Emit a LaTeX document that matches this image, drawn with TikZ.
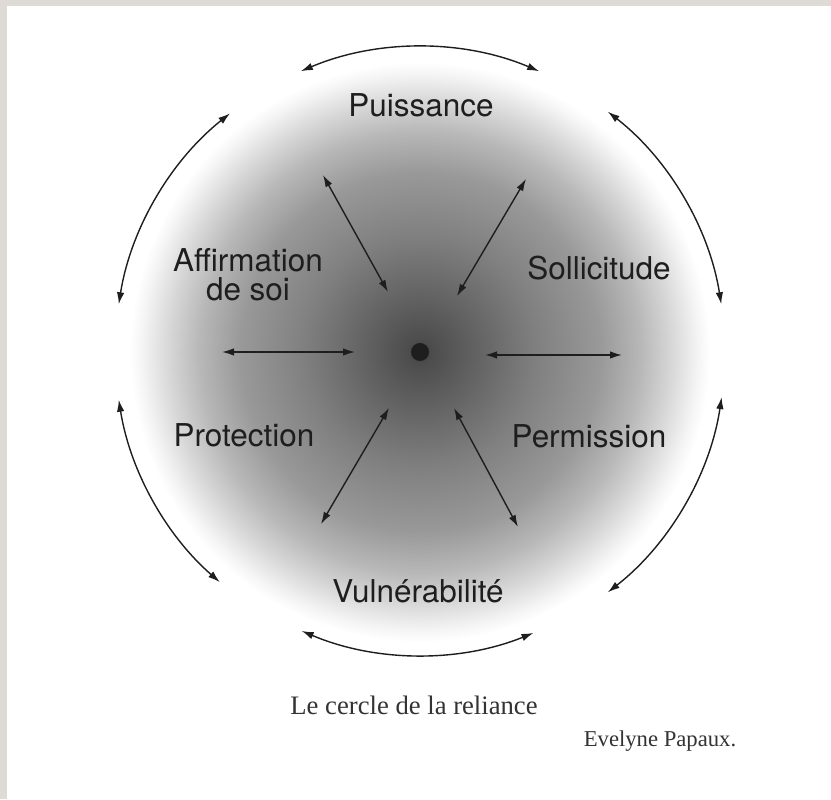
\documentclass[tikz,border=0pt]{standalone}
\usepackage{fontspec}
\setmainfont{Liberation Serif}
\newfontfamily\labfont{TeX Gyre Heros}
\usetikzlibrary{arrows.meta}
\definecolor{bandgray}{HTML}{DEDBD6}
\definecolor{ink}{HTML}{1E1E1E}
\pgfdeclareradialshading{glow}{\pgfpoint{0bp}{0bp}}{%
  color(0bp)=(black!76);
  color(1bp)=(black!70);
  color(5bp)=(black!61);
  color(10bp)=(black!50);
  color(15.5bp)=(black!40);
  color(19bp)=(black!28);
  color(21.6bp)=(black!16);
  color(24bp)=(black!4);
  color(25bp)=(white);
  color(50bp)=(white)}
\tikzset{
  lab/.style={font=\labfont\fontsize{23.6}{22}\selectfont, text=ink, inner sep=0pt, align=center},
  dblarrow/.style={draw=ink, line width=1.05pt, {Latex[length=9pt,width=5.6pt]}-{Latex[length=9pt,width=5.6pt]}},
  captext/.style={font=\fontsize{20}{24}\selectfont, text=black!80, inner sep=0pt}
}
\begin{document}
\begin{tikzpicture}[x=0.75pt,y=0.75pt]
\useasboundingbox (0,0) rectangle (831,799);
\fill[white] (0,0) rectangle (831,799);
\fill[bandgray] (0,793) rectangle (831,799);
\fill[bandgray] (0,0) rectangle (7,799);
% shaded disk
\shade[shading=glow] (420,447) circle (290);
% centre dot
\node[circle, fill=ink, minimum size=13.5pt, inner sep=0pt] (c) at (420,447) {};
% outer arcs
\draw[dblarrow] ([shift={(67:305)}]c.center) arc[start angle=67, end angle=113, radius=305];
\draw[dblarrow] ([shift={(128.5:305)}]c.center) arc[start angle=128.5, end angle=171, radius=305];
\draw[dblarrow] ([shift={(189:305)}]c.center) arc[start angle=189, end angle=229, radius=305];
\draw[dblarrow] ([shift={(247:303)}]c.center) arc[start angle=247, end angle=292, radius=303];
\draw[dblarrow] ([shift={(308:305)}]c.center) arc[start angle=308, end angle=351.5, radius=305];
\draw[dblarrow] ([shift={(9:305)}]c.center) arc[start angle=9, end angle=52, radius=305];
% inner arrow endpoints
\coordinate (tl1) at (323,624); \coordinate (tl2) at (388,507);
\coordinate (tr1) at (526,620); \coordinate (tr2) at (457,503);
\coordinate (l1) at (222,447); \coordinate (l2) at (355,447);
\coordinate (r1) at (485,444); \coordinate (r2) at (622,444);
\coordinate (bl1) at (389,391); \coordinate (bl2) at (321,275);
\coordinate (br1) at (454,391); \coordinate (br2) at (518,272);
\draw[dblarrow] (tl1) -- (tl2);
\draw[dblarrow] (tr1) -- (tr2);
\draw[dblarrow] (l1) -- (l2);
\draw[dblarrow] (r1) -- (r2);
\draw[dblarrow] (bl1) -- (bl2);
\draw[dblarrow] (br1) -- (br2);
% labels
\node[lab, anchor=base] (pui) at (421,682) {Puissance};
\node[lab, anchor=center] (aff) at (248,524) {Affirmation\\de soi};
\node[lab, anchor=base] (sol) at (599,519) {Sollicitude};
\node[lab, anchor=base] (pro) at (244,352) {Protection};
\node[lab, anchor=base] (per) at (589,351) {Permission};
\node[lab, anchor=base] (vul) at (418,196) {Vulnérabilité};
% caption
\node[captext, anchor=base] (title) at (414,84) {Le cercle de la reliance};
\node[captext, font=\fontsize{17}{20}\selectfont, anchor=base] (auth) at (660,52) {Evelyne Papaux.};
\end{tikzpicture}
\end{document}
